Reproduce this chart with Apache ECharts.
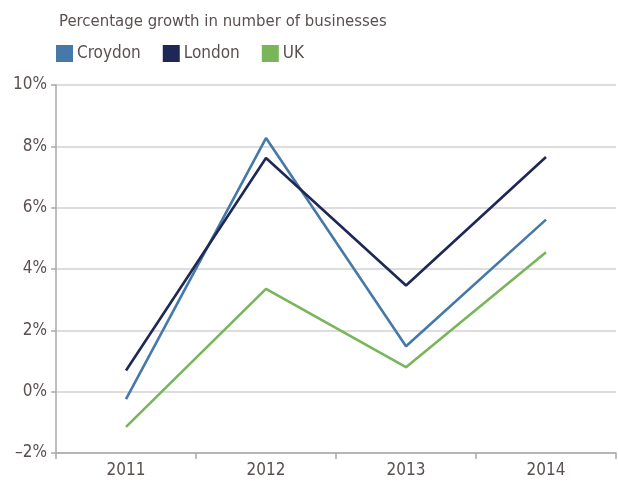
<!DOCTYPE html>
<html>
<head>
<meta charset="utf-8">
<script src="https://cdn.jsdelivr.net/npm/echarts@6/dist/echarts.min.js"></script>
<style>
  html, body { margin: 0; padding: 0; background: #ffffff; }
  #chart { width: 618px; height: 482px; }
</style>
</head>
<body>
<div id="chart"></div>
<script>
// Annual growth in the number of businesses, per cent
const years = ['2011', '2012', '2013', '2014'];
const croydon = [-0.24, 8.27, 1.48, 5.61];
const london = [0.69, 7.62, 3.46, 7.65];
const uk = [-1.15, 3.35, 0.80, 4.55];

const FONT = '"DejaVu Sans Condensed", "Liberation Sans Narrow", "Liberation Sans", sans-serif';
const TEXT = '#5a5050';

const chart = echarts.init(document.getElementById('chart'));

function lineSeries(name, data, color) {
  return {
    name: name,
    type: 'line',
    data: data,
    symbol: 'none',
    lineStyle: { color: color, width: 2.6 },
    itemStyle: { color: color },
    emphasis: { disabled: true }
  };
}

chart.setOption({
  animation: false,
  backgroundColor: '#ffffff',
  textStyle: { fontFamily: FONT },
  title: {
    text: 'Percentage growth in number of businesses',
    left: 54,
    top: 8,
    textStyle: { fontFamily: FONT, fontSize: 16.6, fontWeight: 'normal', color: TEXT }
  },
  legend: {
    left: 51,
    top: 40,
    icon: 'rect',
    itemWidth: 17,
    itemHeight: 17,
    itemGap: 22,
    textStyle: { fontFamily: FONT, fontSize: 17, color: TEXT, padding: [0, 0, 0, -1] },
    data: ['Croydon', 'London', 'UK']
  },
  grid: { left: 56, right: 2, top: 85, bottom: 29, containLabel: false },
  xAxis: {
    type: 'category',
    data: years,
    boundaryGap: true,
    axisLine: { show: true, onZero: false, lineStyle: { color: '#a8a8a8', width: 1.5 } },
    axisTick: { show: true, length: 6, lineStyle: { color: '#a8a8a8', width: 1.5 } },
    axisLabel: { fontFamily: FONT, fontSize: 17, color: TEXT, margin: 9 }
  },
  yAxis: {
    type: 'value',
    min: -2,
    max: 10,
    interval: 2,
    axisLine: { show: true, lineStyle: { color: '#a8a8a8', width: 1.5 } },
    axisTick: { show: true, length: 5, lineStyle: { color: '#a8a8a8', width: 1.5 } },
    axisLabel: {
      fontFamily: FONT, fontSize: 17, color: TEXT, margin: 9,
      formatter: v => String(v).replace('-', '\u2013') + '%'
    },
    splitLine: { show: true, lineStyle: { color: '#d2d2d2', width: 1.5 } }
  },
  series: [
    lineSeries('Croydon', croydon, '#4679aa'),
    lineSeries('London', london, '#1d2856'),
    lineSeries('UK', uk, '#79b65b')
  ]
});
</script>
</body>
</html>
